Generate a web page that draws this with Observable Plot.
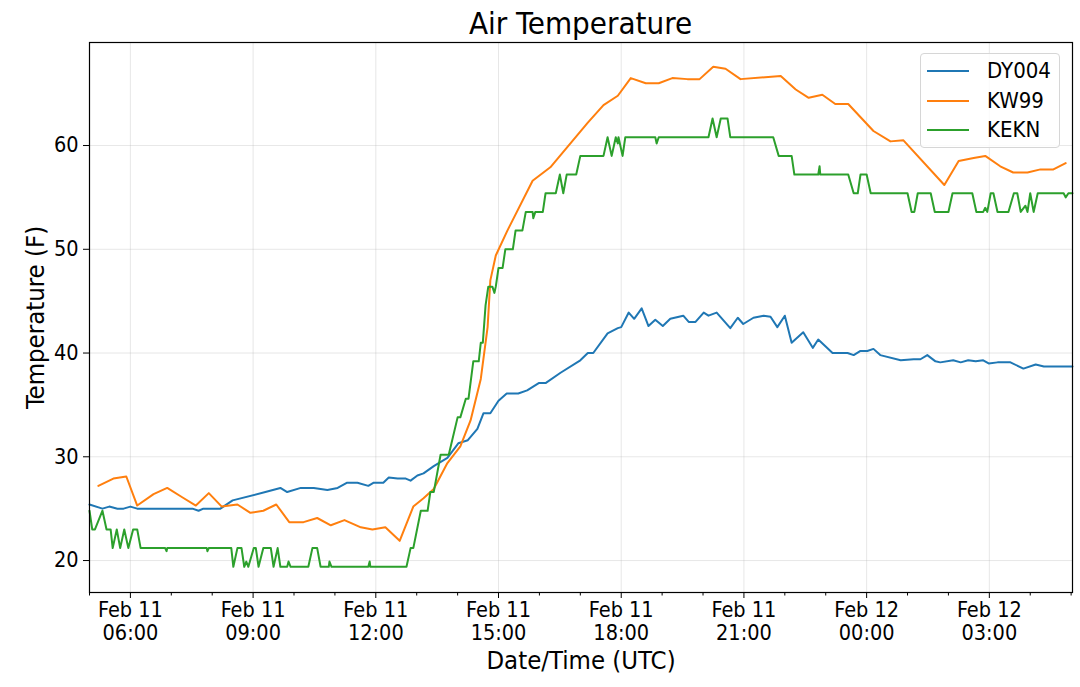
<!DOCTYPE html>
<html>
<head>
<meta charset="utf-8">
<script src="https://cdn.jsdelivr.net/npm/d3@7"></script>
<script src="https://cdn.jsdelivr.net/npm/@observablehq/plot@0.6"></script>
<style>
  html, body { margin: 0; padding: 0; background: #fff; }
  #wrap { position: relative; width: 1080px; height: 687px; font-family: "DejaVu Sans Condensed", "DejaVu Sans", sans-serif; }
  #title { position: absolute; left: 89px; width: 983px; top: 3px; line-height: 40px; text-align: center; font-size: 31px; color: #000; }
  #legend { position: absolute; left: 920px; top: 53px; width: 138px; height: 93px; border: 1px solid #d6d6d6; border-radius: 4px; background: rgba(255,255,255,0.8); }
  .item { position: absolute; left: 0; height: 30px; width: 138px; }
  .item svg { position: absolute; left: 5px; top: 10px; }
  .item span { position: absolute; left: 66px; top: 0; line-height: 30px; font-size: 22px; color: #000; }
  #chart svg text { font-size: 21.5px; }
  #chart svg g.axlabel text { font-size: 25.5px; }
</style>
</head>
<body>
<div id="wrap">
  <div id="title">Air Temperature</div>
  <div id="chart"></div>
  <div id="legend"></div>
</div>
<script>
// Series names and colours
const seriesNames = ["DY004", "KW99", "KEKN"];
const seriesColors = ["#1f77b4", "#ff7f0e", "#2ca02c"];

// Time base: Feb 11 05:00 UTC; times below are minutes after it
const baseTime = Date.UTC(2019, 1, 11, 5, 0);

// DY004
const dyMinutes = [0,19,29,41,50,60,70,151,160,167,192,210,258,280,290,310,329,349,364,378,393,409,417,431,439,452,464,471,481,490,505,525,541,555,569,578,588,600,612,629,642,659,669,691,720,731,739,760,775,780,791,799,810,820,830,841,852,871,879,889,901,908,920,940,951,959,974,989,999,1009,1020,1030,1047,1061,1069,1090,1112,1121,1131,1141,1150,1160,1190,1209,1219,1229,1241,1248,1267,1278,1289,1300,1311,1319,1332,1351,1370,1388,1400,1442];
const dyTemps = [25.4,25.0,25.2,25.0,25.0,25.2,25.0,25.0,24.8,25.0,25.0,25.8,26.6,27.0,26.6,27.0,27.0,26.8,27.0,27.5,27.5,27.2,27.5,27.5,28.0,27.9,27.9,27.7,28.2,28.4,29.1,29.9,31.3,31.6,32.7,34.2,34.2,35.4,36.1,36.1,36.4,37.1,37.1,38.1,39.3,40.0,40.0,41.9,42.4,42.5,43.9,43.3,44.3,42.6,43.2,42.6,43.3,43.6,43.0,43.0,43.9,43.6,43.9,42.4,43.4,42.8,43.4,43.6,43.5,42.5,43.6,41.0,42.0,40.5,41.3,40.0,40.0,39.8,40.2,40.2,40.4,39.8,39.3,39.4,39.4,39.8,39.2,39.1,39.3,39.1,39.3,39.2,39.3,39.0,39.1,39.1,38.5,38.9,38.7,38.7];

// KW99
const kwMinutes = [13,35,54,70,94,114,136,156,175,194,217,236,255,274,293,314,334,354,374,398,415,434,455,475,490,505,525,544,559,574,584,588,596,613,650,676,731,754,775,794,816,835,855,877,895,915,933,955,1014,1036,1055,1075,1094,1113,1150,1175,1194,1254,1275,1297,1314,1336,1355,1376,1395,1414,1432];
const kwTemps = [27.2,27.9,28.1,25.3,26.4,27.0,26.1,25.3,26.5,25.2,25.4,24.6,24.8,25.4,23.7,23.7,24.1,23.4,23.9,23.2,23.0,23.2,21.9,25.2,26.0,26.9,29.4,31.0,33.5,37.5,42.5,47.0,49.4,51.8,56.6,57.9,62.2,63.9,64.8,66.5,66.0,66.0,66.5,66.4,66.4,67.6,67.4,66.4,66.7,65.4,64.6,64.9,64.0,64.0,61.4,60.4,60.5,56.2,58.5,58.8,59.0,58.0,57.4,57.4,57.7,57.7,58.3];

// KEKN
const keMinutes = [0,4,8,19,25,31,34,40,45,51,57,64,70,75,111,113,114,172,173,175,208,211,217,223,227,230,233,241,244,248,255,266,270,276,280,290,292,295,321,327,334,339,351,352,355,409,411,412,465,471,475,486,496,500,505,515,527,540,544,552,556,563,571,574,577,581,585,591,594,596,600,606,610,621,625,635,640,650,651,654,665,669,684,690,695,700,714,720,754,760,766,772,775,776,782,786,830,832,835,892,908,914,920,926,936,940,1003,1011,1030,1034,1069,1071,1072,1113,1121,1127,1131,1140,1146,1200,1206,1210,1215,1234,1240,1260,1266,1295,1301,1311,1314,1317,1322,1326,1332,1348,1356,1361,1366,1373,1376,1380,1385,1391,1429,1432,1436,1442];
const keTemps = [24.8,23.0,23.0,24.8,23.0,23.0,21.2,23.0,21.2,23.0,21.2,23.0,23.0,21.2,21.2,20.9,21.2,21.2,20.9,21.2,21.2,19.4,21.2,21.2,19.4,19.9,19.4,21.2,21.2,19.4,21.2,21.2,19.4,21.2,19.4,19.4,19.9,19.4,19.4,21.2,21.2,19.4,19.4,19.9,19.4,19.4,19.9,19.4,19.4,21.2,21.2,24.8,24.8,26.6,26.6,30.2,30.2,33.8,33.8,35.6,35.6,39.2,39.2,41.0,41.0,44.6,46.4,46.4,45.8,46.4,48.2,48.2,50.0,50.0,51.8,51.8,53.6,53.6,53.0,53.6,53.6,55.4,55.4,57.2,55.4,57.2,57.2,59.0,59.0,60.8,59.0,60.8,60.2,60.8,59.0,60.8,60.8,60.2,60.8,60.8,60.8,62.6,60.8,62.6,62.6,60.8,60.8,59.0,59.0,57.2,57.2,58.0,57.2,57.2,55.4,55.4,57.2,57.2,55.4,55.4,53.6,53.6,55.4,55.4,53.6,53.6,55.4,55.4,53.6,53.6,54.0,53.6,55.4,55.4,53.6,53.6,55.4,55.4,53.6,54.2,53.6,55.4,53.6,55.4,55.4,55.0,55.4,55.4];

// Axis ticks
const yTicks = [20, 30, 40, 50, 60];
const xDomainMinutes = [0, 1442];
const yDomain = [16.92, 69.93];
const majorTickMinutes = [60, 240, 420, 600, 780, 960, 1140, 1320];

const toDate = m => new Date(baseTime + m * 60000);
const toRows = (mins, temps) => mins.map((m, i) => ({time: toDate(m), temp: temps[i]}));

const seriesRows = [toRows(dyMinutes, dyTemps), toRows(kwMinutes, kwTemps), toRows(keMinutes, keTemps)];
const majorTicks = majorTickMinutes.map(toDate);
const xDomain = xDomainMinutes.map(toDate);
const minorTicks = d3.utcHour.range(xDomain[0], xDomain[1]).filter(d => d.getUTCHours() % 3 !== 0);
const fmtDay = d3.utcFormat("%b %d");
const fmtTime = d3.utcFormat("%H:%M");

const chart = Plot.plot({
  width: 1080,
  height: 687,
  marginTop: 42,
  marginBottom: 95,
  marginLeft: 89,
  marginRight: 8,
  style: {fontFamily: "'DejaVu Sans Condensed', 'DejaVu Sans', sans-serif", fontSize: "21.5px", color: "#000", background: "#fff"},
  x: {type: "utc", domain: xDomain},
  y: {domain: yDomain},
  marks: [
    Plot.gridX(majorTicks, {stroke: "#b0b0b0", strokeOpacity: 0.3, strokeWidth: 1}),
    Plot.gridY(yTicks, {stroke: "#b0b0b0", strokeOpacity: 0.3, strokeWidth: 1}),
    ...seriesRows.map((rows, i) => Plot.line(rows, {x: "time", y: "temp", stroke: seriesColors[i], strokeWidth: 2})),
    Plot.frame({stroke: "#000", strokeWidth: 1.2}),
    Plot.axisX(minorTicks, {tickSize: 3.5, tickFormat: () => "", label: null, stroke: "#000"}),
    Plot.axisX(majorTicks, {tickSize: 6, tickPadding: 2, tickFormat: d => fmtDay(d) + "\n" + fmtTime(d), lineHeight: 1.07, label: null, stroke: "#000", fill: "#000"}),
    Plot.axisY(yTicks, {tickSize: 6, tickPadding: 5, label: null, stroke: "#000", fill: "#000"}),
    Plot.text(["Date/Time (UTC)"], {className: "axlabel", frameAnchor: "bottom", lineAnchor: "middle", dy: 68, fontSize: 25.5, fill: "#000"}),
    Plot.text(["Temperature (F)"], {className: "axlabel", frameAnchor: "left", textAnchor: "middle", lineAnchor: "middle", dx: -54, rotate: -90, fontSize: 25.5, fill: "#000"})
  ]
});
document.getElementById("chart").appendChild(chart);

// Legend
const legend = document.getElementById("legend");
seriesNames.forEach((name, i) => {
  const item = document.createElement("div");
  item.className = "item";
  item.style.top = (2 + i * 29.5) + "px";
  item.innerHTML = `<svg width="44" height="10"><line x1="1" y1="5" x2="43" y2="5" stroke="${seriesColors[i]}" stroke-width="2"/></svg><span>${name}</span>`;
  legend.appendChild(item);
});
</script>
</body>
</html>
